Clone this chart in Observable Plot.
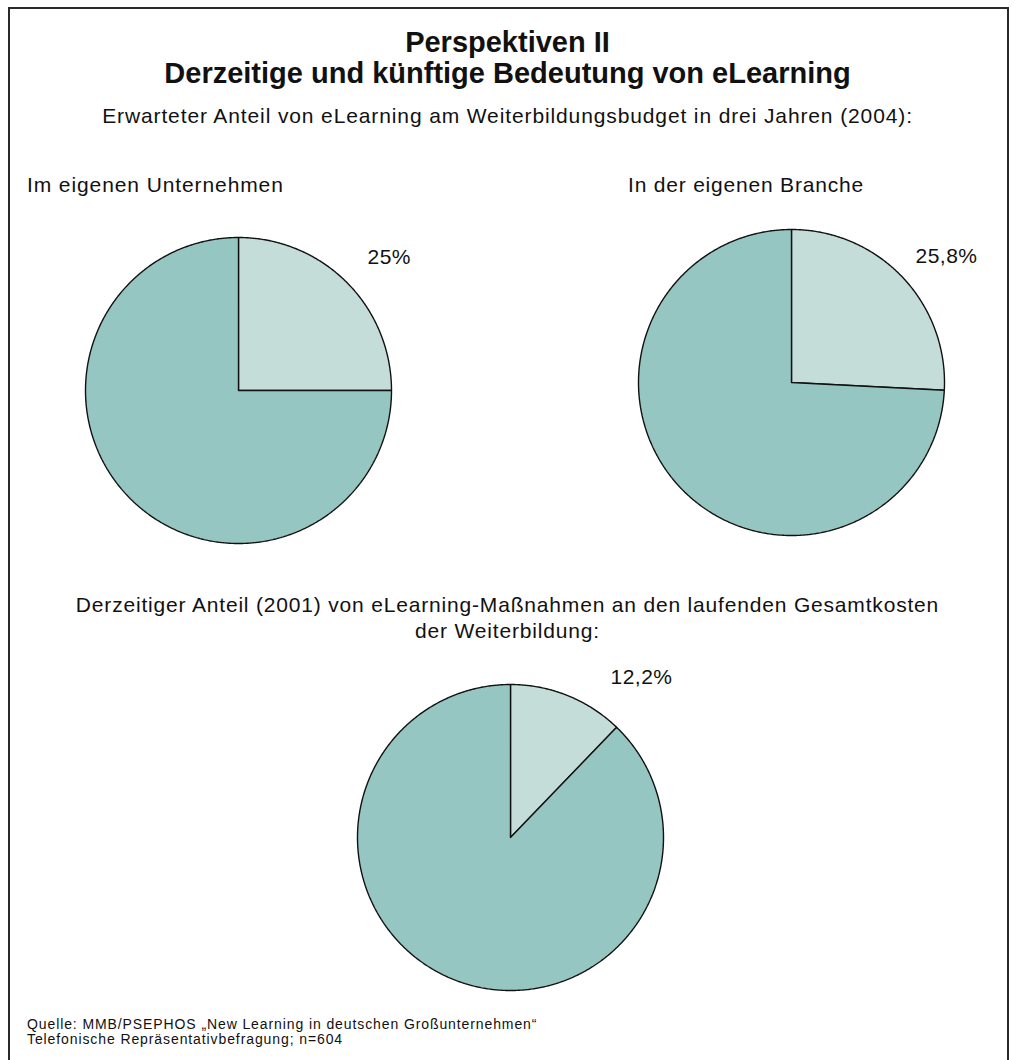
<!DOCTYPE html>
<html>
<head>
<meta charset="utf-8">
<script src="https://cdn.jsdelivr.net/npm/d3@7"></script>
<script src="https://cdn.jsdelivr.net/npm/@observablehq/plot@0.6"></script>
<style>
  html, body { margin: 0; padding: 0; background: #fff; }
  body { font-family: "Liberation Sans", Arial, sans-serif; color: #111; }
  #page { position: relative; width: 1015px; height: 1060px; overflow: hidden; }
  #frame { position: absolute; left: 8px; top: 7px; width: 1001px; height: 1100px; border: 2px solid #2a2a2a; box-sizing: border-box; }
  .t { position: absolute; white-space: nowrap; line-height: 1; }
  .c { left: 0; width: 1015px; text-align: center; }
  .pie { position: absolute; }
</style>
</head>
<body>
<div id="page">
  <div id="frame"></div>
</div>
<script>
// ---------- data ----------
const pieTitles = ["Im eigenen Unternehmen", "In der eigenen Branche", "Derzeitiger Anteil (2001)"];
const elearningShare = [25, 25.8, 12.2];            // percent
const shareLabels = ["25%", "25,8%", "12,2%"];
const sliceNames = ["eLearning", "Rest"];

// ---------- layout (not data) ----------
const R = 153;                 // pie radius in px
const HALF = 215;              // half size of each plot
const pieCenters = [[238, 390], [791, 382], [510, 837]];
const labelOffsets = [[129, 127], [124, 120], [100, 154]]; // px from centre (right, up)
const sliceColors = ["#c4ddd9", "#96c6c1"];

const page = document.getElementById("page");

function addText(txt, {size, baseline, left = null, bold = false, spacing = 0}) {
  const d = document.createElement("div");
  d.className = "t" + (left === null ? " c" : "");
  d.textContent = txt;
  d.style.fontSize = size + "px";
  d.style.top = (baseline - 0.8465 * size) + "px";
  d.style.letterSpacing = spacing + "px";
  if (left !== null) d.style.left = left + "px";
  if (bold) d.style.fontWeight = "bold";
  page.appendChild(d);
  return d;
}

addText("Perspektiven II", {size: 29, baseline: 53, bold: true});
addText("Derzeitige und künftige Bedeutung von eLearning", {size: 29, baseline: 84, bold: true});
addText("Erwarteter Anteil von eLearning am Weiterbildungsbudget in drei Jahren (2004):", {size: 21, baseline: 123, spacing: 0.88});
addText(pieTitles[0], {size: 21, baseline: 192, left: 27, spacing: 0.9});
addText(pieTitles[1], {size: 21, baseline: 192, left: 628, spacing: 0.8});
addText("Derzeitiger Anteil (2001) von eLearning-Maßnahmen an den laufenden Gesamtkosten", {size: 21, baseline: 612, spacing: 0.82});
addText("der Weiterbildung:", {size: 21, baseline: 638, spacing: 0.82});
addText("Quelle: MMB/PSEPHOS „New Learning in deutschen Großunternehmen“", {size: 14, baseline: 1029, left: 27, spacing: 0.9});
addText("Telefonische Repräsentativbefragung; n=604", {size: 14, baseline: 1044, left: 27, spacing: 0.9});

// ---------- pies ----------
const pieGen = d3.pie().sort(null).value(d => d.value);

function slicePolygon(arc) {
  const pts = [{x: 0, y: 0}];
  const n = Math.max(2, Math.ceil((arc.endAngle - arc.startAngle) / (Math.PI / 360)));
  for (let i = 0; i <= n; i++) {
    const a = arc.startAngle + (arc.endAngle - arc.startAngle) * i / n;
    pts.push({x: Math.sin(a), y: Math.cos(a)});
  }
  pts.push({x: 0, y: 0});
  return pts;
}

elearningShare.forEach((share, i) => {
  const data = [{name: sliceNames[0], value: share}, {name: sliceNames[1], value: 100 - share}];
  const arcs = pieGen(data);
  const dom = HALF / R;
  const marks = arcs.map((arc, j) =>
    Plot.line(slicePolygon(arc), {
      x: "x", y: "y",
      fill: sliceColors[j],
      stroke: "#111",
      strokeWidth: 1.4,
      strokeLinejoin: "miter",
      curve: "linear"
    })
  );
  const [ox, oy] = labelOffsets[i];
  marks.push(Plot.text([{label: shareLabels[i], x: ox / R, y: oy / R}], {
    x: "x", y: "y", text: "label",
    textAnchor: "start", lineAnchor: "bottom",
    fontSize: 21, fill: "#111"
  }));
  const chart = Plot.plot({
    width: 2 * HALF, height: 2 * HALF,
    margin: 0,
    x: {domain: [-dom, dom], axis: null},
    y: {domain: [-dom, dom], axis: null},
    style: {fontFamily: '"Liberation Sans", Arial, sans-serif', background: "transparent", overflow: "visible", letterSpacing: "0.5px"},
    marks
  });
  chart.classList.add("pie");
  chart.style.left = (pieCenters[i][0] - HALF) + "px";
  chart.style.top = (pieCenters[i][1] - HALF) + "px";
  page.appendChild(chart);
});
</script>
</body>
</html>
